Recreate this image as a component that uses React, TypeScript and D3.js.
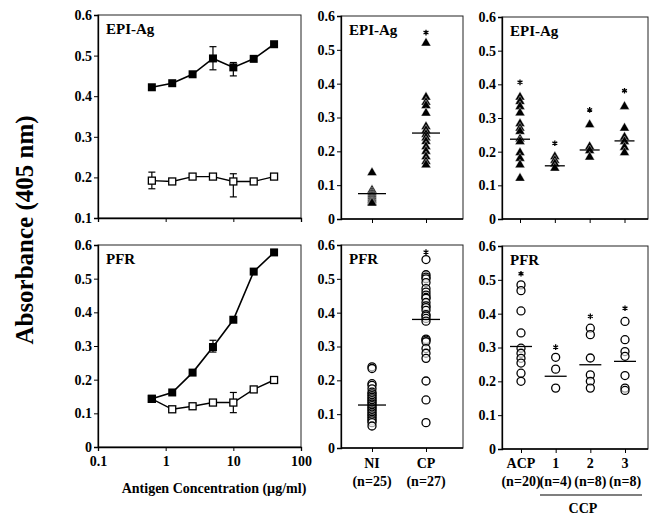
import * as d3 from "d3";
import React, { useEffect, useRef } from "react";

// antigen titration (µg/ml)
const conc = [0.625, 1.25, 2.5, 5, 10, 20, 40];
const epiFilled = [0.422, 0.432, 0.454, 0.493, 0.471, 0.492, 0.528];
const epiOpen = [0.192, 0.19, 0.202, 0.202, 0.19, 0.19, 0.202];
const pfrFilled = [0.143, 0.162, 0.221, 0.297, 0.378, 0.521, 0.578];
const pfrOpen = [0.143, 0.112, 0.121, 0.132, 0.132, 0.171, 0.199];
// error bars: [index, low, high]
const epiFilledErr: [number, number, number][] = [[3, 0.465, 0.522], [4, 0.45, 0.483]];
const epiOpenErr: [number, number, number][] = [[0, 0.172, 0.213], [4, 0.152, 0.209]];
const pfrFilledErr: [number, number, number][] = [[3, 0.282, 0.317]];
const pfrOpenErr: [number, number, number][] = [[4, 0.102, 0.162]];

const groupsMid = ["NI", "CP"];
const nMid = ["(n=25)", "(n=27)"];
const groupsRight = ["ACP", "1", "2", "3"];
const nRight = ["(n=20)", "(n=4)", "(n=8)", "(n=8)"];

const epiMid = [
  [0.137, 0.085, 0.078, 0.072, 0.066, 0.06, 0.055, 0.05, 0.047],
  [0.52, 0.36, 0.345, 0.335, 0.313, 0.273, 0.262, 0.25, 0.24, 0.229, 0.214, 0.2, 0.184, 0.17, 0.16],
];
const epiMidMean = [0.075, 0.254];
const epiMidStar = [null, 0.551];

const epiRight = [
  [0.362, 0.349, 0.334, 0.315, 0.283, 0.27, 0.26, 0.238, 0.23, 0.197, 0.18, 0.161, 0.121],
  [0.185, 0.174, 0.164, 0.151],
  [0.28, 0.215, 0.203, 0.184],
  [0.334, 0.27, 0.243, 0.23, 0.213, 0.197],
];
const epiRightMean = [0.237, 0.158, 0.205, 0.232];
const epiRightStar = [0.406, 0.225, 0.324, 0.381];

const pfrMid = [
  [0.24, 0.235, 0.19, 0.185, 0.175, 0.165, 0.16, 0.155, 0.15, 0.145, 0.14, 0.135, 0.13, 0.125, 0.12, 0.115, 0.11, 0.105, 0.1, 0.095, 0.09, 0.085, 0.08, 0.075, 0.065],
  [0.557, 0.512, 0.505, 0.5, 0.489, 0.471, 0.461, 0.452, 0.445, 0.442, 0.43, 0.42, 0.415, 0.407, 0.394, 0.39, 0.383, 0.375, 0.322, 0.319, 0.314, 0.294, 0.28, 0.265, 0.198, 0.142, 0.075],
];
const pfrMidMean = [0.127, 0.38];
const pfrMidStar = [null, 0.579];

const pfrRight = [
  [0.485, 0.468, 0.408, 0.343, 0.298, 0.283, 0.268, 0.254, 0.224, 0.2],
  [0.271, 0.236, 0.18],
  [0.357, 0.338, 0.269, 0.219, 0.2, 0.18],
  [0.377, 0.323, 0.288, 0.274, 0.217, 0.18, 0.173],
];
const pfrRightMean = [0.303, 0.215, 0.249, 0.259];
const pfrRightStar = [0.518, 0.301, 0.392, 0.416];

const yTicksFull = [0, 0.1, 0.2, 0.3, 0.4, 0.5, 0.6];
const yTicksTL = [0.1, 0.2, 0.3, 0.4, 0.5, 0.6];
const xTicksLog = [0.1, 1, 10, 100];

const FONT = "'Liberation Serif', 'DejaVu Serif', serif";
const fmt = (d: number) => (d === 0 ? "0" : d3.format(".1f")(d));

export default function App() {
  const svgRef = useRef<SVGSVGElement | null>(null);

  useEffect(() => {
    const svg = d3.select(svgRef.current);
    svg.selectAll("*").remove();

    const frame = (x0: number, y0: number, x1: number, y1: number, domain: [number, number], ticks: number[], label: string) => {
      const y = d3.scaleLinear().domain(domain).range([y1, y0]);
      const g = svg.append("g");
      g.append("rect").attr("x", x0).attr("y", y0).attr("width", x1 - x0).attr("height", y1 - y0)
        .attr("fill", "none").attr("stroke", "#222").attr("stroke-width", 1);
      const ax = g.append("g").attr("transform", `translate(${x0},0)`)
        .call(d3.axisLeft(y).tickValues(ticks).tickSize(4).tickPadding(2).tickFormat(fmt as any));
      ax.select(".domain").attr("stroke", "#000").attr("stroke-width", 1.3);
      ax.selectAll("text").attr("font-family", FONT).attr("font-weight", "bold").attr("font-size", 14).attr("fill", "#000");
      g.append("text").attr("x", x0 + 8).attr("y", y0 + 19).text(label)
        .attr("font-family", FONT).attr("font-weight", "bold").attr("font-size", 15);
      return { g, y };
    };

    // ---- line panels
    const linePanel = (y0: number, y1: number, domain: [number, number], ticks: number[], label: string,
      filled: number[], open: number[], fErr: [number, number, number][], oErr: [number, number, number][], showX: boolean) => {
      const x0 = 98, x1 = 301;
      const { g, y } = frame(x0, y0, x1, y1, domain, ticks, label);
      const x = d3.scaleLog().domain([0.1, 100]).range([x0, x1]);
      const xa = g.append("g").attr("transform", `translate(0,${y1})`)
        .call(d3.axisBottom(x).tickValues(xTicksLog).tickSize(4).tickPadding(5).tickFormat(d3.format("") as any));
      xa.select(".domain").attr("stroke", "#000").attr("stroke-width", 1.3);
      xa.selectAll("text").attr("font-family", FONT).attr("font-weight", "bold").attr("font-size", 14)
        .attr("fill", "#000").attr("opacity", showX ? 1 : 0);
      const line = d3.line<number>().x((_, i) => x(conc[i])).y(d => y(d));
      const errs = (err: [number, number, number][]) => {
        err.forEach(([i, lo, hi]) => {
          const cx = x(conc[i]);
          g.append("line").attr("x1", cx).attr("x2", cx).attr("y1", y(lo)).attr("y2", y(hi)).attr("stroke", "#000").attr("stroke-width", 1.2);
          [lo, hi].forEach(v => g.append("line").attr("x1", cx - 3.5).attr("x2", cx + 3.5).attr("y1", y(v)).attr("y2", y(v)).attr("stroke", "#000").attr("stroke-width", 1.2));
        });
      };
      errs(fErr);
      errs(oErr);
      g.append("path").attr("d", line(open)).attr("fill", "none").attr("stroke", "#000").attr("stroke-width", 1.4);
      g.append("path").attr("d", line(filled)).attr("fill", "none").attr("stroke", "#000").attr("stroke-width", 1.6);
      g.selectAll(".op").data(open).join("rect").attr("class", "op")
        .attr("x", (_, i) => x(conc[i]) - 3.5).attr("y", d => y(d) - 3.5).attr("width", 7).attr("height", 7)
        .attr("fill", "#fff").attr("stroke", "#000").attr("stroke-width", 1.3);
      g.selectAll(".fl").data(filled).join("rect").attr("class", "fl")
        .attr("x", (_, i) => x(conc[i]) - 4).attr("y", d => y(d) - 4).attr("width", 8).attr("height", 8)
        .attr("fill", "#000");
    };

    linePanel(15, 218, [0.1, 0.6], yTicksTL, "EPI-Ag", epiFilled, epiOpen, epiFilledErr, epiOpenErr, false);
    linePanel(245, 447, [0, 0.6], yTicksFull, "PFR", pfrFilled, pfrOpen, pfrFilledErr, pfrOpenErr, true);

    // ---- scatter panels
    const star = d3.symbol().type(d3.symbolAsterisk).size(22);
    const scatterPanel = (x0: number, x1: number, y0: number, y1: number, label: string, groups: string[],
      range: [number, number], vals: number[][], means: number[], stars: (number | null)[], shape: "tri" | "circ", lineW: number) => {
      const { g, y } = frame(x0, y0, x1, y1, [0, 0.6], yTicksFull, label);
      const x = d3.scalePoint<string>().domain(groups).range([x0 + range[0], x0 + range[1]]);
      const xa = g.append("g").attr("transform", `translate(0,${y1})`)
        .call(d3.axisBottom(x).tickSize(4).tickFormat(() => ""));
      xa.select(".domain").remove();
      xa.selectAll("line").attr("stroke", "#000");
      g.append("line").attr("x1", x0).attr("x2", x1).attr("y1", y1).attr("y2", y1).attr("stroke", "#000").attr("stroke-width", 1.3);
      groups.forEach((grp, gi) => {
        const cx = x(grp)!;
        const pts = vals[gi];
        if (shape === "tri") {
          const sym = d3.symbol().type(d3.symbolTriangle).size(42);
          g.selectAll(`.t${gi}`).data(pts).join("path").attr("class", `t${gi}`)
            .attr("transform", d => `translate(${cx},${y(d)})`).attr("d", sym() as string)
            .attr("fill", "#000").attr("stroke", "#fff").attr("stroke-width", 0.4);
        } else {
          g.selectAll(`.c${gi}`).data(pts).join("circle").attr("class", `c${gi}`)
            .attr("cx", cx).attr("cy", d => y(d)).attr("r", 4)
            .attr("fill", "#fff").attr("fill-opacity", 0.6).attr("stroke", "#000").attr("stroke-width", 1.3);
        }
        g.append("line").attr("x1", cx - lineW / 2).attr("x2", cx + lineW / 2)
          .attr("y1", y(means[gi])).attr("y2", y(means[gi])).attr("stroke", "#000").attr("stroke-width", 1.3);
        const s = stars[gi];
        if (s != null) {
          g.append("path").attr("transform", `translate(${cx},${y(s)})`).attr("d", star() as string)
            .attr("fill", "none").attr("stroke", "#000").attr("stroke-width", 1.3);
        }
      });
      return x;
    };

    scatterPanel(341, 463, 16, 219, "EPI-Ag", groupsMid, [31, 85], epiMid, epiMidMean, epiMidStar, "tri", 28);
    scatterPanel(502, 648, 17, 219, "EPI-Ag", groupsRight, [18, 122.5], epiRight, epiRightMean, epiRightStar, "tri", 20);
    const xm = scatterPanel(341, 463, 245, 448, "PFR", groupsMid, [31, 85], pfrMid, pfrMidMean, pfrMidStar, "circ", 28);
    const xr = scatterPanel(502, 648, 246, 449, "PFR", groupsRight, [19, 123], pfrRight, pfrRightMean, pfrRightStar, "circ", 22);

    const txt = (x: number, y: number, s: string, size: number, anchor = "middle") =>
      svg.append("text").attr("x", x).attr("y", y).attr("text-anchor", anchor).text(s)
        .attr("font-family", FONT).attr("font-weight", "bold").attr("font-size", size);

    groupsMid.forEach((g, i) => { txt(xm(g)!, 468, g, 14); txt(xm(g)!, 486, nMid[i], 14); });
    groupsRight.forEach((g, i) => { txt(xr(g)!, 468, g, 14); txt(xr(g)!, 486, nRight[i], 14); });
    svg.append("line").attr("x1", 540).attr("x2", 642).attr("y1", 495).attr("y2", 495).attr("stroke", "#000").attr("stroke-width", 1.2);
    txt(583, 513, "CCP", 14);
    txt(214, 493, "Antigen Concentration (\u00b5g/ml)", 14);
    svg.append("text").attr("transform", "translate(33,230) rotate(-90)").attr("text-anchor", "middle")
      .text("Absorbance (405 nm)").attr("font-family", FONT).attr("font-weight", "bold").attr("font-size", 25);
  }, []);

  return (
    <svg ref={svgRef} width={651} height={518}
      style={{ position: "absolute", left: 0, top: 0, background: "#fff" }} />
  );
}
